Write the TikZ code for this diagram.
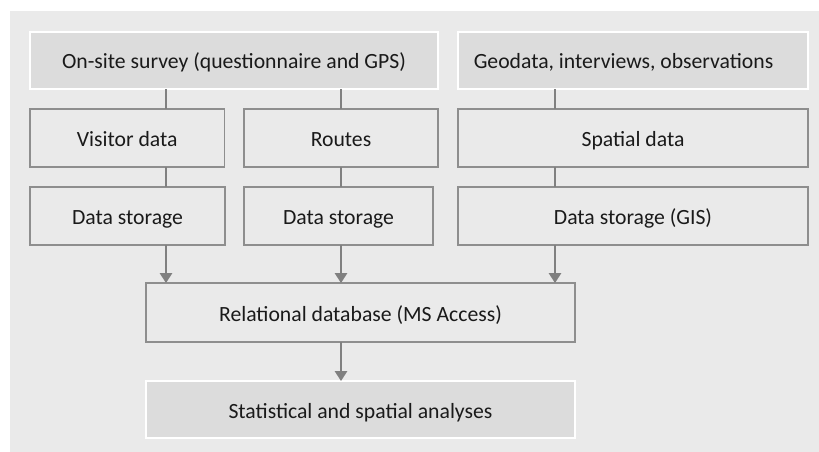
\documentclass[tikz,border=0pt]{standalone}
\usepackage{fontspec}
\setmainfont{Carlito}
\usetikzlibrary{arrows.meta}
\definecolor{panel}{HTML}{EAEAEA}
\definecolor{topfill}{HTML}{DCDCDC}
\definecolor{edge}{HTML}{8E8E8E}
\definecolor{linkc}{HTML}{808080}
\definecolor{txt}{HTML}{1A1A1A}
\begin{document}
\begin{tikzpicture}[x=1pt,y=-1pt,
  every node/.style={font=\fontsize{21.7}{25}\selectfont, text=txt, inner sep=0pt, outer sep=0pt, text height=17pt, text depth=0pt},
  topbox/.style={draw=white, line width=1.5pt, fill=topfill, rectangle},
  midbox/.style={draw=edge, line width=1.5pt, fill=panel, rectangle},
  link/.style={draw=linkc, line width=1.6pt},
  arrowlink/.style={link, -{Triangle[width=12.5pt,length=10pt]}}]
\useasboundingbox (0,0) rectangle (819,452);
\fill[panel] (10,11) rectangle (819,452);
% top row
\node[topbox, minimum width=408pt, minimum height=57pt] (top1) at (234,60.5) {On-site survey (questionnaire and GPS)};
\node[topbox, minimum width=350pt, minimum height=57pt] (geo) at (633,60.5) {};
\node (geotext) at (623.5,60.5) {Geodata, interviews, observations};
% middle row
\node[midbox, minimum width=194.5pt, minimum height=58pt] (visitor) at (127.25,138) {Visitor data};
\node[midbox, minimum width=194pt, minimum height=58pt] (routes) at (341,138) {Routes};
\node[midbox, minimum width=350pt, minimum height=58pt] (spatial) at (633,138) {Spatial data};
% storage row
\node[midbox, minimum width=195pt, minimum height=58pt] (ds1) at (127.5,216) {Data storage};
\node[midbox, minimum width=189pt, minimum height=58pt] (ds2) at (338.5,216) {Data storage};
\node[midbox, minimum width=350pt, minimum height=58pt] (gis) at (633,216) {Data storage (GIS)};
% database and analyses
\node[midbox, minimum width=429pt, minimum height=59pt] (rel) at (360.5,312.5) {Relational database (MS Access)};
\node[topbox, minimum width=429pt, minimum height=57pt] (stats) at (360.5,409.5) {Statistical and spatial analyses};
% connector columns
\coordinate (ca) at (166,0);
\coordinate (cb) at (341,0);
\coordinate (cc) at (555,0);
\draw[link] (top1.south -| ca) -- (visitor.north -| ca);
\draw[link] (top1.south -| cb) -- (routes.north -| cb);
\draw[link] (geo.south -| cc) -- (spatial.north -| cc);
\draw[link] (visitor.south -| ca) -- (ds1.north -| ca);
\draw[link] (routes.south -| cb) -- (ds2.north -| cb);
\draw[link] (spatial.south -| cc) -- (gis.north -| cc);
\draw[arrowlink] (ds1.south -| ca) -- (rel.north -| ca);
\draw[arrowlink] (ds2.south -| cb) -- (rel.north -| cb);
\draw[arrowlink] (gis.south -| cc) -- (rel.north -| cc);
\draw[arrowlink] (rel.south -| cb) -- (stats.north -| cb);
\end{tikzpicture}
\end{document}
